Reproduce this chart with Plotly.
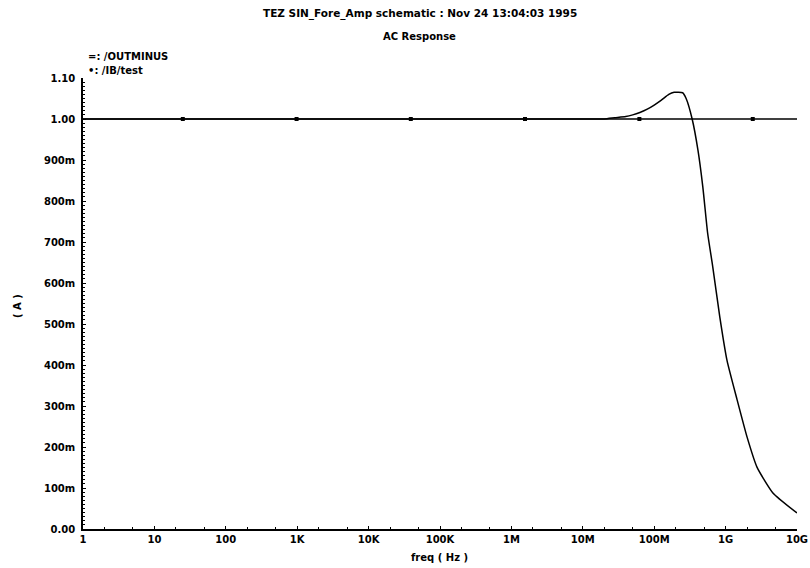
import plotly.graph_objects as go

# ---- data ----
title_text = "TEZ SIN_Fore_Amp schematic : Nov 24 13:04:03 1995"
subtitle_text = "AC Response"
legend_lines = ["=: /OUTMINUS", "\u2022: /IB/test"]

flat_freq = [1, 1e10]
flat_val = [1.0, 1.0]
flat_marker_freq = [25, 980, 3.9e4, 1.55e6, 6.2e7, 2.4e9]
flat_marker_val = [1.0, 1.0, 1.0, 1.0, 1.0, 1.0]

resp_freq = [1, 1e2, 1e4, 1e6, 1e7, 2.0e7, 2.8e7, 4.0e7, 5.0e7, 6.3e7, 8.0e7,
             1.0e8, 1.26e8, 1.6e8, 1.9e8, 2.5e8, 2.8e8, 3.4e8, 4.1e8, 4.8e8,
             5.6e8, 6.6e8, 8.3e8, 1.05e9, 1.45e9, 2.0e9, 2.75e9, 4.6e9, 1.0e10]
resp_val = [1.0, 1.0, 1.0, 1.0, 1.0, 1.0, 1.003, 1.006, 1.010, 1.016, 1.024,
            1.034, 1.046, 1.060, 1.065, 1.064, 1.05, 1.0, 0.924, 0.834,
            0.722, 0.64, 0.517, 0.41, 0.315, 0.224, 0.151, 0.088, 0.039]

x_tickvals = [1, 10, 100, 1e3, 1e4, 1e5, 1e6, 1e7, 1e8, 1e9, 1e10]
x_ticktext = ["1", "10", "100", "1K", "10K", "100K", "1M", "10M", "100M", "1G", "10G"]
y_tickvals = [0, 0.1, 0.2, 0.3, 0.4, 0.5, 0.6, 0.7, 0.8, 0.9, 1.0, 1.1]
y_ticktext = ["0.00", "100m", "200m", "300m", "400m", "500m", "600m", "700m",
              "800m", "900m", "1.00", "1.10"]

FONT = dict(family="DejaVu Sans", size=10, color="black", weight="bold")
TITLE_FONT = dict(family="DejaVu Sans", size=10.5, color="black", weight="bold")

W, H = 810, 568
ML, MR, MT, MB = 83, 13, 78, 39
PW, PH = W - ML - MR, H - MT - MB


def px_x(x):
    return (x - ML) / PW


def px_y(y):
    return (H - MB - y) / PH


fig = go.Figure()
fig.add_trace(go.Scatter(x=flat_freq, y=flat_val, mode="lines",
                         line=dict(color="black", width=1.5), showlegend=False))
fig.add_trace(go.Scatter(x=flat_marker_freq, y=flat_marker_val, mode="markers",
                         marker=dict(symbol="square", size=4, color="black"),
                         showlegend=False))
fig.add_trace(go.Scatter(x=resp_freq, y=resp_val, mode="lines",
                         line=dict(color="black", width=1.5, shape="spline", smoothing=0.5),
                         showlegend=False))

fig.update_layout(
    width=W, height=H,
    margin=dict(l=ML, r=MR, t=MT, b=MB),
    paper_bgcolor="white", plot_bgcolor="white",
    font=FONT,
    showlegend=False,
)
fig.update_xaxes(
    type="log", range=[0, 10], automargin=False,
    tickvals=x_tickvals, ticktext=x_ticktext,
    ticks="inside", ticklen=3, tickcolor="black",
    minor=dict(ticks="inside", ticklen=2, tickcolor="black", showgrid=False),
    showline=True, linecolor="black", linewidth=1.5,
    showgrid=False, zeroline=False, tickfont=FONT,
)
fig.update_yaxes(
    range=[0, 1.1], automargin=False,
    tickvals=y_tickvals, ticktext=y_ticktext,
    ticks="inside", ticklen=3, tickcolor="black",
    ticklabelstandoff=4,
    minor=dict(ticks="inside", ticklen=2, tickcolor="black", dtick=0.01, showgrid=False),
    showline=True, linecolor="black", linewidth=1.5,
    showgrid=False, zeroline=False, tickfont=FONT,
)

fig.add_annotation(text=title_text, xref="paper", yref="paper",
                   x=px_x(420), y=px_y(13), showarrow=False, font=TITLE_FONT,
                   xanchor="center", yanchor="middle")
fig.add_annotation(text=subtitle_text, xref="paper", yref="paper",
                   x=px_x(419), y=px_y(36), showarrow=False, font=FONT,
                   xanchor="center", yanchor="middle")
fig.add_annotation(text="freq ( Hz )", xref="paper", yref="paper",
                   x=px_x(439), y=px_y(557), showarrow=False, font=FONT,
                   xanchor="center", yanchor="middle")
for i, t in enumerate(legend_lines):
    fig.add_annotation(text=t, xref="paper", yref="paper",
                       x=px_x(86), y=px_y(57 + 14 * i),
                       showarrow=False, font=FONT, xanchor="left", yanchor="middle")
fig.add_annotation(text="( A )", xref="paper", yref="paper",
                   x=px_x(17), y=px_y(306),
                   textangle=-90, showarrow=False, font=FONT,
                   xanchor="center", yanchor="middle")

fig.write_html("out.html")
